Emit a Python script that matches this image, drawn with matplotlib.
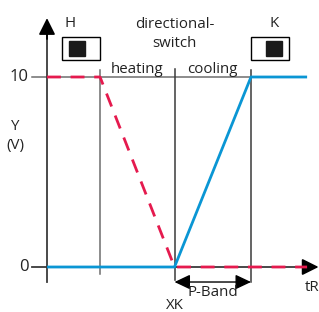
import matplotlib
matplotlib.use('Agg')
import matplotlib.pyplot as plt
from matplotlib.patches import Rectangle

# controller characteristic: heating / cooling around switch point XK
x_heat_start = 2.08      # heating ramp starts here
x_switch = 5.0           # XK, directional switch
p_band = 3.0             # P-Band width
y_max = 10
y_ticks = [0, 10]
y_tick_labels = ["0", "10"]
x_end = 10.2

heat_x = [0, x_heat_start, x_switch, x_end]
heat_y = [y_max, y_max, 0, 0]
cool_x = [0, x_switch, x_switch + p_band, x_end]
cool_y = [0, 0, y_max, y_max]

blue = "#0a96d4"
red = "#e51a4e"
axis_c = "#3a3a3a"
grid_c = "#6e6e6e"
txt_c = "#222222"

plt.rcParams['font.family'] = ['Open Sans', 'DejaVu Sans']

fig = plt.figure(figsize=(3.19, 3.12), dpi=100)
ax = fig.add_axes([0, 0, 1, 1])
sx, sy = 25.5, 19.0
ax.set_xlim(-47 / sx, (319 - 47) / sx)
ax.set_ylim(-(312 - 267) / sy, 267 / sy)
ax.axis('off')

# helper lines
ax.plot([-0.59, x_switch + p_band], [y_max, y_max], color=grid_c, lw=1.1, zorder=1)
ax.plot([x_heat_start] * 2, [-0.37, 10.37], color=grid_c, lw=1.1, zorder=1)
ax.plot([x_switch] * 2, [-0.68, 10.4], color=axis_c, lw=1.1, zorder=1)
ax.plot([x_switch + p_band] * 2, [-0.79, 10.37], color=axis_c, lw=1.1, zorder=1)

# axes with arrows
ax.plot([0, 0], [-0.79, 12.5], color=axis_c, lw=1.3, zorder=2)
ax.plot([-0.59, 10.2], [0, 0], color=axis_c, lw=1.3, zorder=2)
head = "-|>,head_length=1.0,head_width=0.5"
ax.annotate("", xy=(0, 13.1), xytext=(0, 12.0),
            arrowprops=dict(arrowstyle=head, color="black", lw=1.3, shrinkA=0, shrinkB=0))
ax.annotate("", xy=(10.65, 0), xytext=(10.0, 0),
            arrowprops=dict(arrowstyle=head, color="black", lw=1.3, shrinkA=0, shrinkB=0))

for yt, lab in zip(y_ticks, y_tick_labels):
    ax.text(-0.72, yt, lab, ha='right', va='center', fontsize=12, color=txt_c)

# curves
ax.plot(cool_x, cool_y, color=blue, lw=2.0, zorder=3, solid_capstyle='butt')
ax.plot(heat_x, heat_y, color=red, lw=2.0, dashes=(5, 3.5), zorder=4)

# P-Band dimension arrow
ax.annotate("", xy=(x_switch, -0.79), xytext=(x_switch + p_band, -0.79),
            arrowprops=dict(arrowstyle="<|-|>,head_length=0.95,head_width=0.45",
                            color="black", lw=1.0, shrinkA=0, shrinkB=0))
fs = 10.8
ax.text(x_switch + p_band / 2, -1.35, "P-Band", ha='center', va='center', fontsize=fs, color=txt_c)
ax.text(x_switch, -2.05, "XK", ha='center', va='center', fontsize=fs, color=txt_c)
ax.text(10.4, -1.1, "tR", ha='center', va='center', fontsize=fs, color=txt_c)

# labels
ax.text(-1.25, 7.4, "Y", ha='center', va='center', fontsize=fs, color=txt_c)
ax.text(-1.25, 6.4, "(V)", ha='center', va='center', fontsize=fs, color=txt_c)
ax.text(x_switch, 12.75, "directional-", ha='center', va='center', fontsize=fs, color=txt_c)
ax.text(x_switch, 11.75, "switch", ha='center', va='center', fontsize=fs, color=txt_c)
ax.text(3.53, 10.42, "heating", ha='center', va='center', fontsize=fs, color=txt_c)
ax.text(6.5, 10.42, "cooling", ha='center', va='center', fontsize=fs, color=txt_c)
ax.text(0.9, 12.8, "H", ha='center', va='center', fontsize=fs, color=txt_c)
ax.text(8.9, 12.8, "K", ha='center', va='center', fontsize=fs, color=txt_c)

# switch symbols
ax.add_patch(Rectangle((0.59, 10.89), 1.49, 1.21, fill=False, ec="black", lw=1.0))
ax.add_patch(Rectangle((0.86, 11.1), 0.63, 0.82, color="#1a1a1a"))
ax.add_patch(Rectangle((8.0, 10.89), 1.49, 1.21, fill=False, ec="black", lw=1.0))
ax.add_patch(Rectangle((8.59, 11.1), 0.63, 0.82, color="#1a1a1a"))

fig.savefig("out.png", dpi=100)
